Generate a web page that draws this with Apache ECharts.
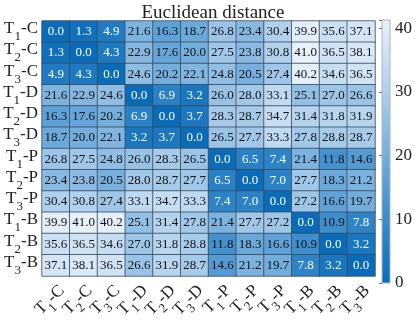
<!DOCTYPE html>
<html>
<head>
<meta charset="utf-8">
<script src="https://cdn.jsdelivr.net/npm/echarts@6/dist/echarts.min.js"></script>
<style>
  html, body { margin: 0; padding: 0; background: #fff; }
  #chart { width: 415px; height: 325px; }
</style>
</head>
<body>
<div id="chart"></div>
<script>
// class labels (rows top to bottom, columns left to right)
const labels = ['T1-C', 'T2-C', 'T3-C', 'T1-D', 'T2-D', 'T3-D',
                'T1-P', 'T2-P', 'T3-P', 'T1-B', 'T2-B', 'T3-B'];

// distance matrix, one row per label
const rowT1C = [0.0, 1.3, 4.9, 21.6, 16.3, 18.7, 26.8, 23.4, 30.4, 39.9, 35.6, 37.1];
const rowT2C = [1.3, 0.0, 4.3, 22.9, 17.6, 20.0, 27.5, 23.8, 30.8, 41.0, 36.5, 38.1];
const rowT3C = [4.9, 4.3, 0.0, 24.6, 20.2, 22.1, 24.8, 20.5, 27.4, 40.2, 34.6, 36.5];
const rowT1D = [21.6, 22.9, 24.6, 0.0, 6.9, 3.2, 26.0, 28.0, 33.1, 25.1, 27.0, 26.6];
const rowT2D = [16.3, 17.6, 20.2, 6.9, 0.0, 3.7, 28.3, 28.7, 34.7, 31.4, 31.8, 31.9];
const rowT3D = [18.7, 20.0, 22.1, 3.2, 3.7, 0.0, 26.5, 27.7, 33.3, 27.8, 28.8, 28.7];
const rowT1P = [26.8, 27.5, 24.8, 26.0, 28.3, 26.5, 0.0, 6.5, 7.4, 21.4, 11.8, 14.6];
const rowT2P = [23.4, 23.8, 20.5, 28.0, 28.7, 27.7, 6.5, 0.0, 7.0, 27.7, 18.3, 21.2];
const rowT3P = [30.4, 30.8, 27.4, 33.1, 34.7, 33.3, 7.4, 7.0, 0.0, 27.2, 16.6, 19.7];
const rowT1B = [39.9, 41.0, 40.2, 25.1, 31.4, 27.8, 21.4, 27.7, 27.2, 0.0, 10.9, 7.8];
const rowT2B = [35.6, 36.5, 34.6, 27.0, 31.8, 28.8, 11.8, 18.3, 16.6, 10.9, 0.0, 3.2];
const rowT3B = [37.1, 38.1, 36.5, 26.6, 31.9, 28.7, 14.6, 21.2, 19.7, 7.8, 3.2, 0.0];
const matrix = [rowT1C, rowT2C, rowT3C, rowT1D, rowT2D, rowT3D,
                rowT1P, rowT2P, rowT3P, rowT1B, rowT2B, rowT3B];

// colour bar
const cbarMin = 0;
const cbarMax = 41.3;
const cbarTicks = [0, 10, 20, 30, 40];
const palette = ['#0a6cb9', '#3b8ccd', '#78b0de', '#b3d2ee', '#eaf2fa'];

const serif = '"Liberation Serif", "DejaVu Serif", serif';

let data = [];
matrix.forEach(function (row, i) {
    row.forEach(function (v, j) {
        data.push([j, i, v]);
    });
});

// T1-C -> T with subscript 1, then -C
function subLabel(s) {
    return '{t|' + s[0] + '}{s|' + s[1] + '}{t|' + s.slice(2) + '}';
}
const labelRich = {
    t: { fontFamily: serif, fontSize: 17, color: '#222', lineHeight: 17, verticalAlign: 'top' },
    s: { fontFamily: serif, fontSize: 13, color: '#222', lineHeight: 23, verticalAlign: 'bottom' }
};

let chart = echarts.init(document.getElementById('chart'));
let option = {
    animation: false,
    backgroundColor: '#fff',
    title: {
        text: 'Euclidean distance',
        left: 208,
        top: -1,
        textAlign: 'center',
        textStyle: { fontFamily: serif, fontSize: 19, fontWeight: 'normal', color: '#222' }
    },
    grid: [
        { left: 42, top: 21, width: 333, height: 262 },
        {
            left: 382, top: 20, width: 13, height: 263, show: true,
            borderColor: '#aab4be', borderWidth: 1,
            backgroundColor: {
                type: 'linear', x: 0, y: 1, x2: 0, y2: 0,
                colorStops: palette.map(function (c, k) {
                    return { offset: k / (palette.length - 1), color: c };
                })
            }
        }
    ],
    xAxis: [
        {
            type: 'category', data: labels, gridIndex: 0,
            axisLine: { show: false }, axisTick: { show: false }, splitLine: { show: false },
            axisLabel: {
                rotate: 45, margin: 6, interval: 0, verticalAlign: 'top',
                formatter: subLabel, rich: labelRich
            }
        },
        { type: 'value', gridIndex: 1, show: false, min: 0, max: 1 }
    ],
    yAxis: [
        {
            type: 'category', data: labels, gridIndex: 0, inverse: true,
            axisLine: { show: false }, axisTick: { show: false }, splitLine: { show: false },
            axisLabel: {
                margin: 4, interval: 0,
                formatter: subLabel, rich: labelRich
            }
        },
        {
            type: 'value', gridIndex: 1, position: 'right',
            min: cbarMin, max: cbarMax, interval: 10,
            axisLine: { show: false },
            axisTick: { show: true, inside: true, length: 3, lineStyle: { color: '#777' } },
            splitLine: { show: false },
            axisLabel: {
                margin: 5, fontFamily: serif, fontSize: 17, color: '#222',
                customValues: cbarTicks
            }
        }
    ],
    visualMap: {
        show: false, type: 'continuous', seriesIndex: 0,
        min: cbarMin, max: cbarMax, inRange: { color: palette }
    },
    series: [{
        type: 'heatmap', xAxisIndex: 0, yAxisIndex: 0,
        data: data,
        itemStyle: { borderColor: '#3a4a5a', borderWidth: 0.8 },
        label: {
            show: true,
            fontFamily: serif,
            fontSize: 13,
            formatter: function (p) {
                let v = p.value[2];
                return (v < 10 ? '{w|' : '{k|') + v.toFixed(1) + '}';
            },
            rich: {
                w: { color: '#fff', fontFamily: serif, fontSize: 13 },
                k: { color: '#111', fontFamily: serif, fontSize: 13 }
            }
        },
        emphasis: { disabled: true }
    }]
};
chart.setOption(option);
</script>
</body>
</html>
